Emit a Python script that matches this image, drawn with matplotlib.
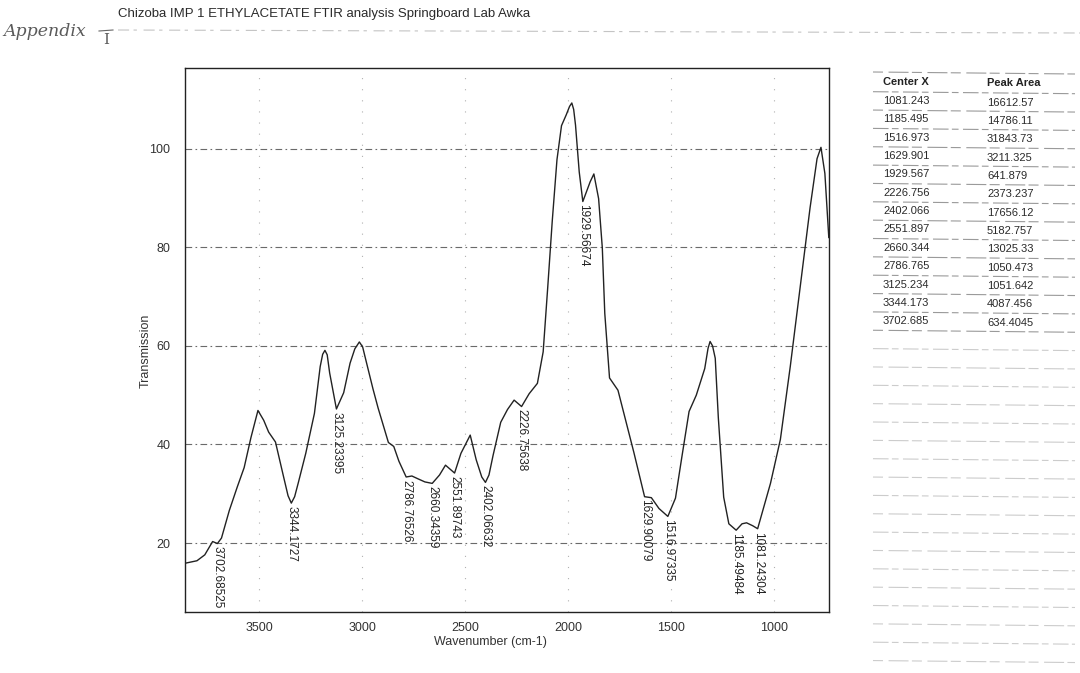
import numpy as np
import matplotlib
matplotlib.use("Agg")
import matplotlib.pyplot as plt

plt.rcParams["font.family"] = ["Liberation Sans", "DejaVu Sans"]

# FTIR trace (wavenumber in cm-1, transmission)
wavenumber = [3859, 3802, 3764, 3726, 3702.68525, 3683, 3645, 3607, 3573, 3540,
              3506, 3478, 3454, 3421, 3382, 3360, 3344.1727, 3328, 3311, 3274,
              3232, 3204, 3192, 3181, 3170, 3158, 3125.23395, 3090, 3059, 3036,
              3014, 2998, 2984, 2948, 2923, 2873, 2847, 2822, 2786.76526, 2759,
              2728, 2696, 2660.34359, 2625, 2596, 2551.89743, 2521, 2476, 2447, 2420,
              2402.06632, 2385, 2365, 2328, 2295, 2263, 2226.75638, 2190, 2150, 2122,
              2100, 2078, 2055, 2033, 2010, 1994, 1983, 1974, 1965, 1947,
              1929.56674, 1894, 1876, 1853, 1835, 1823, 1800, 1759, 1682, 1629.90079,
              1597, 1560, 1516.97335, 1480, 1450, 1414, 1379, 1338, 1322, 1312,
              1300, 1287, 1272, 1246, 1221, 1185.49484, 1157, 1135, 1105, 1081.24304,
              1019, 971, 923, 875, 827, 793, 774, 755, 736]
transmission = [15.9, 16.4, 17.6, 20.3, 19.9, 21.0, 26.6, 31.3, 35.3, 41.4,
                46.9, 44.9, 42.5, 40.5, 33.5, 29.6, 28.1, 29.4, 32.1, 38.2,
                46.3, 55.8, 58.3, 59.1, 58.2, 54.5, 47.2, 50.5, 56.5, 59.4,
                60.8, 59.8, 57.4, 51.3, 47.4, 40.4, 39.6, 36.6, 33.4, 33.6,
                33.0, 32.4, 32.1, 33.8, 35.8, 34.2, 38.2, 41.9, 36.9, 33.4,
                32.3, 33.8, 37.8, 44.5, 47.1, 49.0, 47.7, 50.3, 52.4, 58.8,
                71.8, 85.3, 97.8, 104.7, 106.9, 108.6, 109.3, 108.0, 104.8, 95.3,
                89.3, 93.3, 94.9, 89.9, 79.9, 66.6, 53.5, 51.0, 38.4, 29.4,
                29.2, 27.0, 25.4, 29.1, 37.2, 46.7, 50.0, 55.4, 59.5, 60.9,
                60.0, 57.5, 45.4, 29.3, 23.9, 22.6, 23.9, 24.1, 23.5, 22.9,
                32.1, 41.0, 55.8, 71.9, 88.0, 98.0, 100.3, 95.0, 82.0]

# labelled peak centres on the trace
peak_labels = [3702.68525, 3344.1727, 3125.23395, 2786.76526, 2660.34359,
               2551.89743, 2402.06632, 2226.75638, 1929.56674, 1629.90079,
               1516.97335, 1185.49484, 1081.24304]

# peak table
center_x = [1081.243, 1185.495, 1516.973, 1629.901, 1929.567, 2226.756, 2402.066,
            2551.897, 2660.344, 2786.765, 3125.234, 3344.173, 3702.685]
peak_area = [16612.57, 14786.11, 31843.73, 3211.325, 641.879, 2373.237, 17656.12,
             5182.757, 13025.33, 1050.473, 1051.642, 4087.456, 634.4045]

x_ticks = [3500, 3000, 2500, 2000, 1500, 1000]
y_ticks = [20, 40, 60, 80, 100]

W, H = 1080, 673
fig = plt.figure(figsize=(W / 100, H / 100), dpi=100)
fig.patch.set_facecolor("white")


def fx(x):
    return x / W


def fy(y):
    return 1 - y / H


ax = fig.add_axes([fx(185), fy(612), (829 - 185) / W, (612 - 68) / H])
ax.plot(wavenumber, transmission, color="#222222", lw=1.0, solid_joinstyle="round")
ax.set_xlim(3860, 735)
ax.set_ylim(6.0, 116.4)
ax.set_xticks(x_ticks)
ax.set_yticks(y_ticks)
ax.tick_params(length=0, labelsize=9, colors="#333333")
ax.tick_params(axis="y", pad=10.5)
ax.tick_params(axis="x", pad=7)
for s in ax.spines.values():
    s.set_color("#222222")
    s.set_linewidth(1.0)

for yv in y_ticks:
    ax.axhline(yv, color="#6a6a6a", lw=0.8, ls=(0, (6, 3, 1.5, 3)), zorder=0)
for xv in x_ticks:
    ax.axvline(xv, color="#b0b0b0", lw=0.8, ls=(0, (1, 9)), zorder=0)

ax.set_xlabel("Wavenumber (cm-1)", fontsize=9, color="#333333")
ax.xaxis.set_label_coords(0.474, -0.045)
ax.set_ylabel("Transmission", fontsize=9, color="#333333")
ax.yaxis.set_label_coords(-0.052, 0.48)

wn_sorted = wavenumber[::-1]
tr_sorted = transmission[::-1]
for pk in peak_labels:
    yv = np.interp(pk, wn_sorted, tr_sorted)
    ax.annotate(f"{pk:.10g}", xy=(pk, yv), xytext=(0, -2), textcoords="offset points",
                rotation=270, rotation_mode="anchor", ha="left", va="center",
                fontsize=8.5, color="#222222")

# page header
fig.text(fx(118), fy(14), "Chizoba IMP 1 ETHYLACETATE FTIR analysis Springboard Lab Awka",
         fontsize=9.5, color="#2a2a2a", va="center", ha="left")
fig.add_artist(plt.Line2D([fx(118), fx(1080)], [fy(30), fy(33)], transform=fig.transFigure,
                          color="#c4c4c4", lw=0.8, ls=(0, (10, 4, 3, 6))))
fig.text(fx(3), fy(32), "Appendix", fontsize=12.5, family="DejaVu Serif", style="italic",
         color="#5a5a5a", va="center", ha="left")
fig.text(fx(106), fy(40), "I", fontsize=11, family="DejaVu Serif", color="#5a5a5a",
         va="center", ha="center")
fig.add_artist(plt.Line2D([fx(99), fx(113)], [fy(31), fy(30)], transform=fig.transFigure,
                          color="#666666", lw=0.8))

# peak table on the right
col1, col2 = 883, 987
row0, dy = 101, 18.35
fig.text(fx(col1), fy(82), "Center X", fontsize=8, fontweight="bold", color="#222222", va="center")
fig.text(fx(col2), fy(83), "Peak Area", fontsize=8, fontweight="bold", color="#222222", va="center")
for i, (c, a) in enumerate(zip(center_x, peak_area)):
    yy = row0 + i * dy
    fig.text(fx(col1), fy(yy), f"{c:.7g}", fontsize=8, color="#2a2a2a", va="center")
    fig.text(fx(col2), fy(yy + 1.5), f"{a:.7g}", fontsize=8, color="#2a2a2a", va="center")

line_y = [72] + [91.7 + k * dy for k in range(32)]
for k, ly in enumerate(line_y):
    if ly > 672:
        break
    shade = "#9a9a9a" if ly < 340 else "#cccccc"
    pattern = (0, (14, 3, 6, 4)) if k % 2 else (0, (9, 5, 18, 3))
    fig.add_artist(plt.Line2D([fx(873), fx(1075)], [fy(ly), fy(ly + 2)],
                              transform=fig.transFigure, color=shade, lw=0.8, ls=pattern))

fig.savefig("out.png", dpi=100)
